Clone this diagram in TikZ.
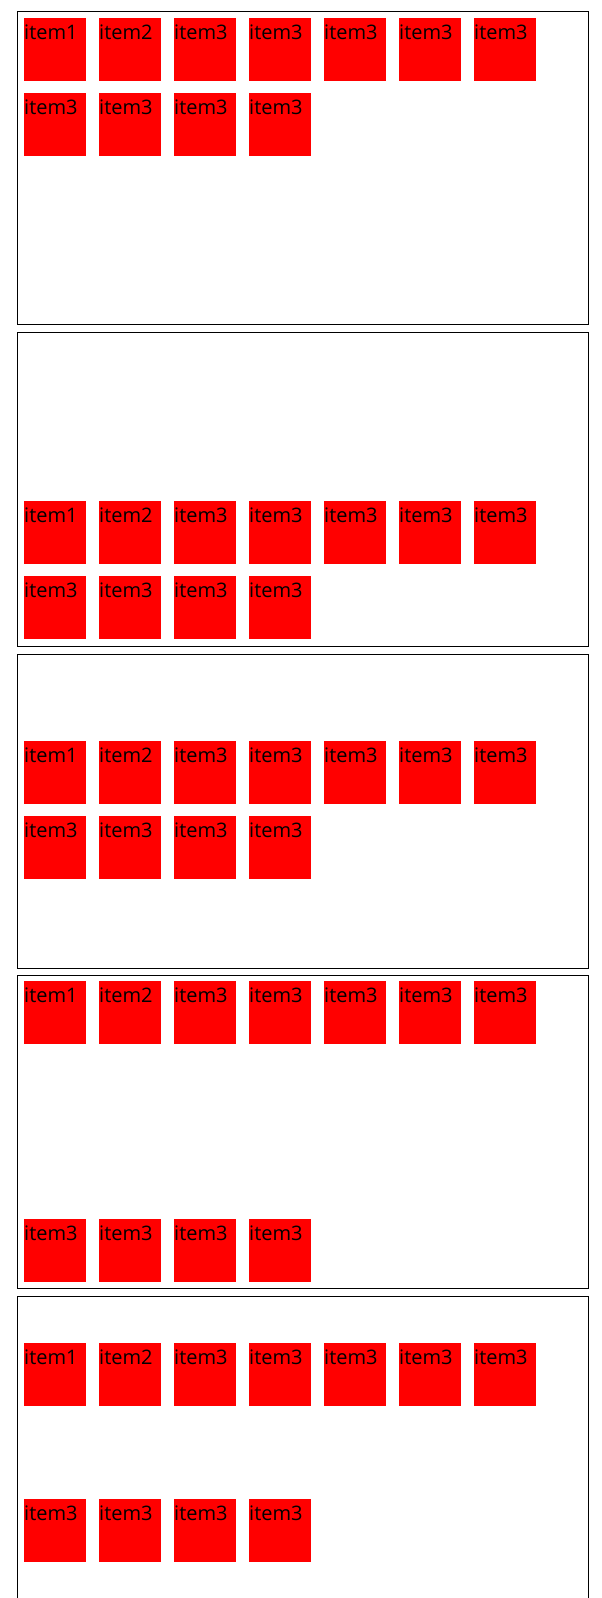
\documentclass[tikz,border=0pt]{standalone}
\usepackage{fontspec}
\setmainfont{Open Sans}
\begin{document}
\begin{tikzpicture}[x=1pt,y=-1pt,
  frame/.style={draw=black,line width=1pt},
  itembox/.style={fill=red,draw=none,minimum width=62pt,minimum height=62.5pt,inner sep=0pt,outer sep=0pt,anchor=north west},
  itemlbl/.style={inner sep=0pt,anchor=base west,font=\fontsize{20}{24}\selectfont,text=black}]
\useasboundingbox (0,0) rectangle (602,1598);
\clip (0,0) rectangle (602,1598);
% box frames
\foreach \b/\t in {1/10.5,2/331.7,3/653.7,4/974.5,5/1295.7}{
  \node[frame,minimum width=571pt,minimum height=313.8pt,inner sep=0pt,anchor=north west] (frame\b) at (16.5,\t) {};
}
% rows: box / row1 top / row2 top
\foreach \b/\ra/\rb in {1/18/93,2/501/576,3/741/816,4/981/1219,5/1343/1499}{
  \foreach \c/\lab in {1/item1,2/item2,3/item3,4/item3,5/item3,6/item3,7/item3}{
    \node[itembox] (b\b r1c\c) at ({24+75*(\c-1)},\ra) {};
    \node[itemlbl] (t\b r1c\c) at ([yshift=-21.3pt]b\b r1c\c.north west) {\lab};
  }
  \foreach \c in {1,2,3,4}{
    \node[itembox] (b\b r2c\c) at ({24+75*(\c-1)},\rb) {};
    \node[itemlbl] (t\b r2c\c) at ([yshift=-21.3pt]b\b r2c\c.north west) {item3};
  }
}
\end{tikzpicture}
\end{document}
